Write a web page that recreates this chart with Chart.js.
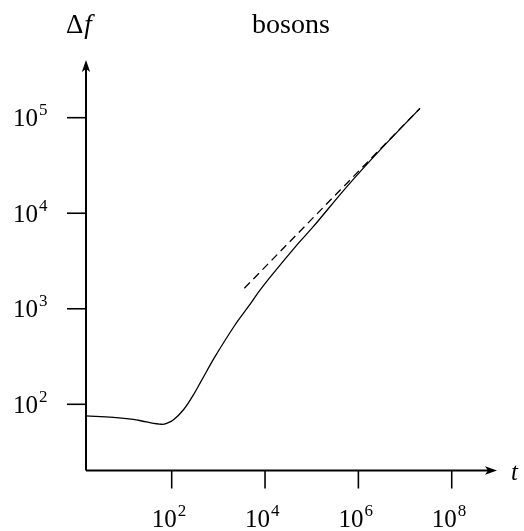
<!DOCTYPE html>
<html>
<head>
<meta charset="utf-8">
<script src="https://cdn.jsdelivr.net/npm/chart.js@4/dist/chart.umd.min.js"></script>
<style>
  html, body { margin: 0; padding: 0; background: #fff; }
  canvas { display: block; }
</style>
</head>
<body>
<canvas id="chart" width="524" height="531"></canvas>
<script>
// bosons: Δf against t, both on log axes
const tValues  = [1.46, 5.6, 15, 29, 61, 78, 108, 177, 290, 440, 847, 2270, 4375, 7800, 15000, 51600, 108000, 562000, 2.9e6, 2.09e7];
const dfValues = [75.5, 73.1, 69.7, 65.3, 61.8, 63.2, 68.5, 87.1, 125, 179, 315, 676, 1050, 1570, 2350, 4840, 7230, 18900, 45800, 125300];

// late-time t^(1/2) asymptote
const fitT  = [3600, 2.09e7];
const fitDf = [1640, 125300];

const xTicks = [1e2, 1e4, 1e6, 1e8];
const yTicks = [1e2, 1e3, 1e4, 1e5];

const serif = '"Liberation Serif", "Times New Roman", serif';

function drawPow(ctx, left, base, exp) {
  ctx.font = '25px ' + serif;
  ctx.fillText('10', left, base);
  const w = ctx.measureText('10').width;
  ctx.font = '17px ' + serif;
  ctx.fillText(String(exp), left + w + 1, base - 11);
}

function arrow(ctx, tipX, tipY, dx, dy) {
  // latex-ish arrowhead pointing along (dx, dy)
  const len = 12, half = 4.2, notch = 3;
  const px = -dy, py = dx;
  ctx.beginPath();
  ctx.moveTo(tipX, tipY);
  ctx.lineTo(tipX - dx * len + px * half, tipY - dy * len + py * half);
  ctx.lineTo(tipX - dx * (len - notch), tipY - dy * (len - notch));
  ctx.lineTo(tipX - dx * len - px * half, tipY - dy * len - py * half);
  ctx.closePath();
  ctx.fill();
}

const axesPlugin = {
  id: 'axes',
  afterDraw(chart) {
    const { ctx, chartArea: a, scales } = chart;
    const x = scales.x, y = scales.y;
    ctx.save();
    ctx.strokeStyle = '#000';
    ctx.fillStyle = '#000';
    ctx.lineWidth = 2;

    ctx.beginPath();
    ctx.moveTo(a.left, a.bottom);
    ctx.lineTo(a.right - 6, a.bottom);
    ctx.moveTo(a.left, a.bottom);
    ctx.lineTo(a.left, a.top + 6);
    ctx.stroke();
    arrow(ctx, a.right, a.bottom, 1, 0);
    arrow(ctx, a.left, a.top, 0, -1);

    ctx.lineWidth = 1.6;
    ctx.textBaseline = 'alphabetic';
    ctx.textAlign = 'left';
    xTicks.forEach(v => {
      const px = x.getPixelForValue(v);
      ctx.beginPath();
      ctx.moveTo(px, a.bottom);
      ctx.lineTo(px, a.bottom + 18);
      ctx.stroke();
      drawPow(ctx, px - 20, 527, Math.round(Math.log10(v)));
    });
    yTicks.forEach(v => {
      const py = y.getPixelForValue(v);
      ctx.beginPath();
      ctx.moveTo(a.left - 19, py);
      ctx.lineTo(a.left, py);
      ctx.stroke();
      drawPow(ctx, 13, py + 8.5, Math.round(Math.log10(v)));
    });

    // axis names and title
    ctx.font = '27px ' + serif;
    ctx.fillText('Δ', 66, 33);
    const wd = ctx.measureText('Δ').width;
    ctx.font = 'italic 27px ' + serif;
    ctx.fillText('f', 66 + wd + 1, 33);
    ctx.font = 'italic 25px ' + serif;
    ctx.fillText('t', 511, 480);
    ctx.font = '28px ' + serif;
    ctx.textAlign = 'center';
    ctx.fillText('bosons', 291, 33);
    ctx.restore();
  }
};

new Chart(document.getElementById('chart'), {
  type: 'scatter',
  data: {
    datasets: [
      {
        label: 'Δf',
        data: tValues.map((t, i) => ({ x: t, y: dfValues[i] })),
        showLine: true,
        borderColor: '#000',
        borderWidth: 1.3,
        pointRadius: 0,
        tension: 0.35,
      },
      {
        label: 't^1/2',
        data: fitT.map((t, i) => ({ x: t, y: fitDf[i] })),
        showLine: true,
        borderColor: '#000',
        borderWidth: 1.3,
        borderDash: [8, 5],
        pointRadius: 0,
      },
    ],
  },
  options: {
    responsive: false,
    animation: false,
    devicePixelRatio: 1,
    layout: { padding: { left: 86, right: 27, top: 60, bottom: 60.5 } },
    scales: {
      x: { type: 'logarithmic', display: false, min: Math.pow(10, 0.164), max: Math.pow(10, 8.97) },
      y: { type: 'logarithmic', display: false, min: Math.pow(10, 1.307), max: Math.pow(10, 5.604) },
    },
    plugins: {
      legend: { display: false },
      tooltip: { enabled: false },
    },
  },
  plugins: [axesPlugin],
});
</script>
</body>
</html>
